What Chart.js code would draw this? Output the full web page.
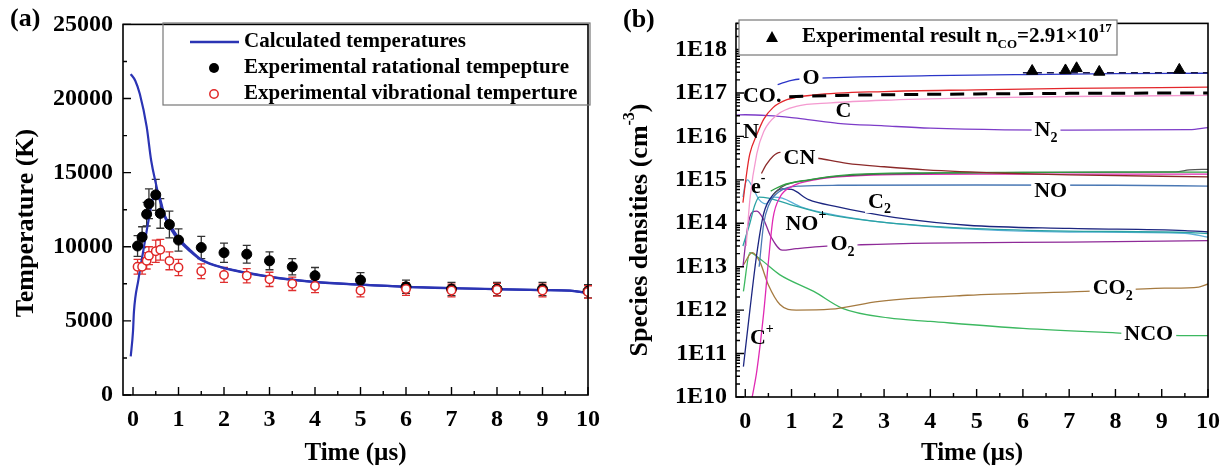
<!DOCTYPE html>
<html>
<head>
<meta charset="utf-8">
<script src="https://cdn.jsdelivr.net/npm/chart.js@4.4.1/dist/chart.umd.min.js"></script>
<style>
  body { margin: 0; background: #fff; }
  canvas { position: absolute; top: 0; }
  #panelA { left: 0; }
  #panelB { left: 610px; }
</style>
</head>
<body>
<canvas id="panelA" width="610" height="471"></canvas>
<canvas id="panelB" width="621" height="471"></canvas>
<script>
const FONT = "'Liberation Serif', 'Times New Roman', serif";

// ---- panel (a): temperatures ----
const timeTicks = [0, 1, 2, 3, 4, 5, 6, 7, 8, 9, 10];
const timeMinor = [0.5, 1.5, 2.5, 3.5, 4.5, 5.5, 6.5, 7.5, 8.5, 9.5];
const tempTicks = [0, 5000, 10000, 15000, 20000, 25000];
const tempMinor = [2500, 7500, 12500, 17500, 22500];

const expTime = [0.1, 0.2, 0.3, 0.35, 0.5, 0.6, 0.8, 1, 1.5, 2, 2.5, 3, 3.5, 4, 5, 6, 7, 8, 9, 10];
const rotTemp = [10050, 10650, 12200, 12900, 13500, 12250, 11500, 10450, 9950, 9600, 9500, 9050, 8650, 8050, 7750, 7300, 7150, 7150, 7150, 7000];
const rotErr = [700, 700, 800, 1000, 1050, 1000, 900, 750, 750, 650, 600, 600, 550, 550, 500, 450, 450, 450, 450, 450];
const vibTemp = [8650, 8650, 9050, 9400, 9700, 9800, 9050, 8600, 8350, 8100, 8050, 7800, 7500, 7350, 7050, 7150, 7050, 7100, 7050, 6950];
const vibErr = [500, 500, 550, 600, 750, 700, 600, 550, 500, 500, 480, 480, 450, 450, 430, 430, 430, 430, 430, 420];

const calcTimeFall = [-0.05, 0.05, 0.15, 0.3, 0.4, 0.5, 0.6, 0.7, 0.85, 1.0, 1.25, 1.5, 2, 2.5, 3, 3.5, 4, 5, 6, 7, 8, 9, 9.6, 10];
const calcTempFall = [21650, 21200, 20300, 18100, 15800, 14300, 13000, 12100, 11300, 10600, 9800, 9150, 8580, 8250, 7980, 7780, 7630, 7450, 7300, 7210, 7140, 7080, 7040, 6880];
const calcTimeRise = [-0.05, 0.0, 0.02, 0.12, 0.23, 0.34, 0.44, 0.52, 0.6, 0.7, 0.85, 1.0, 1.25, 1.5, 2, 3, 4, 5, 6, 7, 8, 9, 9.6, 10];
const calcTempRise = [2600, 4300, 5600, 7800, 9800, 11750, 13300, 13700, 13200, 12000, 11100, 10450, 9700, 9100, 8560, 7970, 7620, 7440, 7290, 7200, 7135, 7075, 7035, 6880];

// ---- panel (b): species densities ----
const densTicks = [1e10, 1e11, 1e12, 1e13, 1e14, 1e15, 1e16, 1e17, 1e18];

const tO = [0.7, 0.85, 1.0, 1.2, 1.6, 2.5, 4, 6, 8, 10];
const nO = [1.55e17, 1.75e17, 1.95e17, 2.1e17, 2.2e17, 2.35e17, 2.5e17, 2.65e17, 2.78e17, 2.85e17];
const tN = [-0.05, 0.05, 0.1, 0.25, 0.4, 0.6, 0.9, 1.5, 3, 5, 7, 10];
const nN = [3e14, 2e15, 4e15, 1.1e16, 2.5e16, 4.6e16, 7e16, 9e16, 1.08e17, 1.18e17, 1.27e17, 1.36e17];
const tCO = [0.95, 2, 3, 5, 7, 10];
const nCO = [8.2e16, 8.8e16, 9.1e16, 9.5e16, 9.8e16, 1.0e17];
const tC = [0.02, 0.1, 0.25, 0.4, 0.7, 1.1, 1.85, 3, 5, 7, 10];
const nC = [3e13, 3.5e14, 4e15, 1.3e16, 3.2e16, 4.9e16, 5.9e16, 6.8e16, 7.7e16, 8.3e16, 8.8e16];
const tN2 = [-0.2, 0, 0.5, 1, 1.4, 2, 3, 4, 5.6, 7, 9.6, 10];
const nN2 = [3.1e16, 3.15e16, 3e16, 2.7e16, 2.4e16, 2e16, 1.75e16, 1.55e16, 1.42e16, 1.4e16, 1.43e16, 1.6e16];
const tCN = [0.35, 0.45, 0.6, 0.75, 1.0, 1.6, 2.2, 3, 3.9, 5.6, 7, 10];
const nCN = [1.4e15, 2.2e15, 3.5e15, 4.3e15, 3.9e15, 3.1e15, 2.4e15, 2e15, 1.7e15, 1.42e15, 1.3e15, 1.17e15];
const tGray = [0.6, 0.8, 1.4, 2.2, 4, 6, 8, 9.3, 9.6, 10];
const nGray = [4.5e14, 7e14, 1e15, 1.25e15, 1.42e15, 1.48e15, 1.5e15, 1.52e15, 1.7e15, 1.75e15];
const tGreen = [0.55, 0.8, 1.37, 2.2, 3.9, 6, 8, 10];
const nGreen = [5.5e14, 7.5e14, 1e15, 1.3e15, 1.45e15, 1.48e15, 1.5e15, 1.5e15];
const tCp = [0.15, 0.25, 0.4, 0.5, 0.6, 0.75, 1.0, 1.5, 2.5, 5, 10];
const nCp = [1e10, 4e10, 9e11, 1.3e13, 1.3e14, 4e14, 7e14, 1e15, 1.25e15, 1.35e15, 1.35e15];
const tNO = [0.3, 0.4, 0.5, 0.75, 1.2, 2, 5, 8, 10];
const nNO = [1e13, 1e14, 2.5e14, 5.5e14, 7.2e14, 7.5e14, 7.6e14, 7.5e14, 7.2e14];
const tC2 = [-0.04, 0.1, 0.25, 0.4, 0.6, 0.8, 1.0, 1.37, 2, 2.56, 3.25, 4.8, 7, 9.5, 10];
const nC2 = [5e10, 1e12, 2e13, 1.7e14, 4.5e14, 6.2e14, 6e14, 3.5e14, 2.4e14, 1.8e14, 1.35e14, 9e13, 7.6e13, 6.8e13, 6.3e13];
const tNOp = [-0.05, 0.1, 0.2, 0.3, 0.5, 0.97, 1.77, 3, 5, 7, 9.5, 10];
const nNOp = [3e13, 1e14, 2.5e14, 4e14, 3.8e14, 2.7e14, 1.6e14, 1.05e14, 7.5e13, 6.6e13, 6.2e13, 5.8e13];
const tE = [-0.05, 0, 0.05, 0.15, 0.3, 0.45, 0.6, 0.8, 1.2, 2, 3, 5, 7, 9.5, 10];
const nE = [4e14, 8e14, 1e15, 7e14, 3.5e14, 2.8e14, 4e14, 3.8e14, 2.4e14, 1.5e14, 1.05e14, 7.2e13, 6.3e13, 5.9e13, 4.8e13];
const tO2 = [-0.05, 0.05, 0.15, 0.25, 0.4, 0.55, 0.8, 1.1, 1.6, 2.5, 4, 7, 10];
const nO2 = [1e13, 8e13, 1.8e14, 1.9e14, 1.2e14, 5e13, 2.4e13, 2.6e13, 2.9e13, 3.2e13, 3.5e13, 3.7e13, 4e13];
const tCO2 = [-0.04, 0.15, 0.32, 0.5, 0.75, 1.1, 1.84, 2.9, 4.8, 7.35, 9.06, 9.8, 10];
const nCO2 = [1.1e13, 2.1e13, 1.26e13, 3.8e12, 1.35e12, 1e12, 1.05e12, 1.6e12, 2.2e12, 2.7e12, 3.2e12, 3.4e12, 4e12];
const tNCO = [-0.04, 0.1, 0.32, 0.75, 1.48, 2.1, 3.1, 4, 6, 8, 9.5, 10];
const nNCO = [2.7e12, 2.1e13, 1.5e13, 6.5e12, 2.7e12, 1.1e12, 6.6e11, 5.5e11, 3.8e11, 3e11, 2.6e11, 2.6e11];

const tExp = [6.2, 6.92, 7.16, 7.65, 9.38];
const nExp = [3.2e17, 3.3e17, 3.7e17, 3.05e17, 3.4e17];
const tRef = [6, 10];
const nRef = [2.91e17, 2.91e17];

const xy = (xs, ys) => xs.map((x, i) => ({ x, y: ys[i] }));

Chart.defaults.font.family = FONT;
Chart.defaults.font.weight = 'bold';
Chart.defaults.color = '#000';

function richText(ctx, parts, x, y, size, align) {
  const small = Math.round(size * 0.62);
  const fontOf = (k) => `bold ${k ? small : size}px ${FONT}`;
  let w = 0;
  parts.forEach(([t, k]) => { ctx.font = fontOf(k); w += ctx.measureText(t).width; });
  let cx = align === 'left' ? x : x - w / 2;
  ctx.textBaseline = 'middle';
  ctx.textAlign = 'left';
  parts.forEach(([t, k]) => {
    ctx.font = fontOf(k);
    const dy = k === 'sub' ? size * 0.36 : k === 'sup' ? -size * 0.4 : 0;
    ctx.fillText(t, cx, y + dy);
    cx += ctx.measureText(t).width;
  });
  return w;
}

// inward ticks and closed frame
const framePlugin = {
  id: 'frame',
  afterDraw(chart, args, o) {
    const { ctx, chartArea: a, scales } = chart;
    ctx.save();
    ctx.strokeStyle = '#000';
    ctx.lineWidth = 1.4;
    ctx.beginPath();
    o.xMajor.forEach((v) => { const p = scales.x.getPixelForValue(v); ctx.moveTo(p, a.bottom); ctx.lineTo(p, a.bottom - 8); });
    o.xMinor.forEach((v) => { const p = scales.x.getPixelForValue(v); ctx.moveTo(p, a.bottom); ctx.lineTo(p, a.bottom - 4); });
    o.yMajor.forEach((v) => { const p = scales.y.getPixelForValue(v); ctx.moveTo(a.left, p); ctx.lineTo(a.left + 8, p); });
    o.yMinor.forEach((v) => { const p = scales.y.getPixelForValue(v); ctx.moveTo(a.left, p); ctx.lineTo(a.left + 4, p); });
    ctx.stroke();
    ctx.lineWidth = 1.6;
    ctx.strokeRect(a.left, a.top, a.right - a.left, a.bottom - a.top);
    ctx.restore();
  }
};

const errorBars = {
  id: 'errorBars',
  beforeDatasetsDraw(chart) {
    const { ctx, scales } = chart;
    const draw = (vals, errs, color) => {
      ctx.strokeStyle = color;
      ctx.lineWidth = 1.3;
      ctx.beginPath();
      expTime.forEach((t, i) => {
        const px = scales.x.getPixelForValue(t);
        const top = scales.y.getPixelForValue(vals[i] + errs[i]);
        const bot = scales.y.getPixelForValue(vals[i] - errs[i]);
        ctx.moveTo(px, top); ctx.lineTo(px, bot);
        ctx.moveTo(px - 4, top); ctx.lineTo(px + 4, top);
        ctx.moveTo(px - 4, bot); ctx.lineTo(px + 4, bot);
      });
      ctx.stroke();
    };
    ctx.save();
    draw(rotTemp, rotErr, '#333');
    draw(vibTemp, vibErr, '#e03030');
    ctx.restore();
  }
};

const decorA = {
  id: 'decorA',
  afterDraw(chart) {
    const { ctx } = chart;
    ctx.save();
    ctx.fillStyle = '#000';
    richText(ctx, [['(a)', '']], 10, 19, 26, 'left');
    ctx.translate(26, 223);
    ctx.rotate(-Math.PI / 2);
    richText(ctx, [['Temperature (K)', '']], 0, 0, 26, 'center');
    ctx.restore();

    // legend
    ctx.save();
    ctx.strokeStyle = '#777';
    ctx.lineWidth = 1.2;
    ctx.strokeRect(163, 23, 427, 82);
    ctx.strokeStyle = '#2b34b4';
    ctx.lineWidth = 2.4;
    ctx.beginPath(); ctx.moveTo(190, 42); ctx.lineTo(239, 42); ctx.stroke();
    ctx.fillStyle = '#000';
    ctx.beginPath(); ctx.arc(214, 68, 5, 0, Math.PI * 2); ctx.fill();
    ctx.strokeStyle = '#e02828';
    ctx.lineWidth = 1.5;
    ctx.beginPath(); ctx.arc(214, 94, 4.2, 0, Math.PI * 2); ctx.stroke();
    richText(ctx, [['Calculated temperatures', '']], 244, 42, 21, 'left');
    richText(ctx, [['Experimental ratational tempepture', '']], 244, 68, 21, 'left');
    richText(ctx, [['Experimental vibrational temperture', '']], 244, 94, 21, 'left');
    ctx.restore();
  }
};

const tickFont = { family: FONT, size: 24, weight: 'bold' };
const titleFont = { family: FONT, size: 25, weight: 'bold' };

new Chart(document.getElementById('panelA'), {
  type: 'line',
  data: {
    datasets: [
      { data: xy(expTime, vibTemp), showLine: false, pointRadius: 4.2, pointBackgroundColor: '#fff', pointBorderColor: '#e02828', pointBorderWidth: 1.5 },
      { data: xy(expTime, rotTemp), showLine: false, pointRadius: 5, pointBackgroundColor: '#000', pointBorderColor: '#000' },
      { data: xy(calcTimeFall, calcTempFall), borderColor: '#2b34b4', borderWidth: 2.2, pointRadius: 0, cubicInterpolationMode: 'monotone' },
      { data: xy(calcTimeRise, calcTempRise), borderColor: '#2b34b4', borderWidth: 2.2, pointRadius: 0, cubicInterpolationMode: 'monotone' }
    ]
  },
  options: {
    responsive: false,
    animation: false,
    devicePixelRatio: 1,
    layout: { padding: { top: 16, right: 15, left: 0, bottom: 0 } },
    plugins: {
      legend: { display: false },
      tooltip: { enabled: false },
      frame: { xMajor: timeTicks, xMinor: timeMinor, yMajor: tempTicks, yMinor: tempMinor }
    },
    scales: {
      x: {
        type: 'linear', min: -0.22, max: 10,
        grid: { display: false, drawTicks: false }, border: { display: false },
        afterBuildTicks: (s) => { s.ticks = timeTicks.map((v) => ({ value: v })); },
        afterFit: (s) => { s.height = 76; },
        ticks: { font: tickFont, color: '#000', padding: 10, maxRotation: 0, autoSkip: false },
        title: { display: true, text: 'Time (µs)', font: titleFont, color: '#000', padding: { top: 0, bottom: 2 } }
      },
      y: {
        type: 'linear', min: 0, max: 25000,
        grid: { display: false, drawTicks: false }, border: { display: false },
        afterBuildTicks: (s) => { s.ticks = tempTicks.map((v) => ({ value: v })); },
        afterFit: (s) => { s.width = 123; },
        ticks: { font: tickFont, color: '#000', padding: 10, callback: (v) => String(v) }
      }
    }
  },
  plugins: [errorBars, framePlugin, decorA]
});

// ---- panel (b) ----
const speciesLabels = [
  { parts: [['O', '']], x: 1.42, y: 2.15e17, bg: true },
  { parts: [['CO.', '']], x: -0.05, y: 8.5e16, bg: false, align: 'left' },
  { parts: [['C', '']], x: 2.12, y: 3.8e16, bg: false },
  { parts: [['N', '']], x: -0.05, y: 1.23e16, bg: false, align: 'left' },
  { parts: [['N', ''], ['2', 'sub']], x: 6.5, y: 1.38e16, bg: true },
  { parts: [['CN', '']], x: 1.17, y: 3.16e15, bg: true },
  { parts: [['e', ''], ['-', 'sup']], x: 0.28, y: 6.9e14, bg: false },
  { parts: [['NO', '']], x: 6.6, y: 5.4e14, bg: true },
  { parts: [['C', ''], ['2', 'sub']], x: 2.9, y: 3.1e14, bg: true },
  { parts: [['NO', ''], ['+', 'sup']], x: 1.31, y: 9.4e13, bg: false },
  { parts: [['O', ''], ['2', 'sub']], x: 2.1, y: 3.3e13, bg: true },
  { parts: [['CO', ''], ['2', 'sub']], x: 7.94, y: 3.2e12, bg: true },
  { parts: [['NCO', '']], x: 8.72, y: 2.8e11, bg: true },
  { parts: [['C', ''], ['+', 'sup']], x: 0.36, y: 2.3e11, bg: false }
];

const labelsPlugin = {
  id: 'speciesLabels',
  afterDatasetsDraw(chart) {
    const { ctx, scales } = chart;
    ctx.save();
    speciesLabels.forEach((l) => {
      const px = scales.x.getPixelForValue(l.x);
      const py = scales.y.getPixelForValue(l.y);
      if (l.bg) {
        ctx.globalAlpha = 0;
        const w = richText(ctx, l.parts, px, py, 22, l.align);
        ctx.globalAlpha = 1;
        ctx.fillStyle = '#fff';
        const left = l.align === 'left' ? px : px - w / 2;
        ctx.fillRect(left - 3, py - 11, w + 6, 22);
      }
      ctx.fillStyle = '#000';
      richText(ctx, l.parts, px, py, 22, l.align);
    });
    ctx.restore();
  }
};

const decorB = {
  id: 'decorB',
  afterDraw(chart) {
    const { ctx } = chart;
    ctx.save();
    ctx.fillStyle = '#000';
    richText(ctx, [['(b)', '']], 13, 20, 26, 'left');
    ctx.translate(30, 230);
    ctx.rotate(-Math.PI / 2);
    richText(ctx, [['Species densities (cm', ''], ['-3', 'sup'], [')', '']], 0, 0, 26, 'center');
    ctx.restore();

    ctx.save();
    ctx.fillStyle = '#fff';
    ctx.fillRect(129, 20, 378, 35);
    ctx.strokeStyle = '#777';
    ctx.lineWidth = 1.2;
    ctx.strokeRect(129, 20, 378, 35);
    ctx.fillStyle = '#000';
    ctx.beginPath();
    ctx.moveTo(162, 31); ctx.lineTo(168, 42); ctx.lineTo(156, 42); ctx.closePath(); ctx.fill();
    richText(ctx, [['Experimental result n', ''], ['CO', 'sub'], ['=2.91×10', ''], ['17', 'sup']], 192, 37, 21, 'left');
    ctx.restore();
  }
};

const logMinor = [];
densTicks.slice(0, -1).forEach((d) => { for (let k = 2; k <= 9; k++) logMinor.push(k * d); });
[2e18, 3e18, 4e18].forEach((v) => logMinor.push(v));

const curve = (xs, ys, color, extra) => Object.assign({
  data: xy(xs, ys), borderColor: color, borderWidth: 1.3, pointRadius: 0, cubicInterpolationMode: 'monotone'
}, extra || {});

new Chart(document.getElementById('panelB'), {
  type: 'line',
  data: {
    datasets: [
      { data: xy(tExp, nExp), showLine: false, pointStyle: 'triangle', pointRadius: 6.5, pointBackgroundColor: '#000', pointBorderColor: '#000' },
      curve(tRef, nRef, '#1a1a4a', { borderDash: [7, 5], borderWidth: 1.5 }),
      curve(tCO, nCO, '#000', { borderDash: [14, 9], borderWidth: 3 }),
      curve(tO, nO, '#2b35c8'),
      curve(tN, nN, '#e3262b'),
      curve(tC, nC, '#f49ad0'),
      curve(tN2, nN2, '#7d3cc8'),
      curve(tCN, nCN, '#8c2a2a'),
      curve(tGreen, nGreen, '#2e9e40'),
      curve(tGray, nGray, '#555'),
      curve(tCp, nCp, '#e02ab4'),
      curve(tNO, nNO, '#4a78b4'),
      curve(tC2, nC2, '#1c2680'),
      curve(tNOp, nNOp, '#2aa3a3'),
      curve(tE, nE, '#5cb0d8'),
      curve(tO2, nO2, '#8e2a98'),
      curve(tCO2, nCO2, '#a57a40'),
      curve(tNCO, nNCO, '#3cb860')
    ]
  },
  options: {
    responsive: false,
    animation: false,
    devicePixelRatio: 1,
    layout: { padding: { top: 16, right: 23, left: 0, bottom: 0 } },
    plugins: {
      legend: { display: false },
      tooltip: { enabled: false },
      frame: { xMajor: timeTicks, xMinor: timeMinor, yMajor: densTicks, yMinor: logMinor }
    },
    scales: {
      x: {
        type: 'linear', min: -0.2, max: 10,
        grid: { display: false, drawTicks: false }, border: { display: false },
        afterBuildTicks: (s) => { s.ticks = timeTicks.map((v) => ({ value: v })); },
        afterFit: (s) => { s.height = 74; },
        ticks: { font: tickFont, color: '#000', padding: 10, maxRotation: 0, autoSkip: false },
        title: { display: true, text: 'Time (µs)', font: titleFont, color: '#000', padding: { top: 0, bottom: 2 } }
      },
      y: {
        type: 'logarithmic', min: 1e10, max: 4e18,
        grid: { display: false, drawTicks: false }, border: { display: false },
        afterBuildTicks: (s) => { s.ticks = densTicks.map((v) => ({ value: v })); },
        afterFit: (s) => { s.width = 126; },
        ticks: { font: tickFont, color: '#000', padding: 9, autoSkip: false, callback: (v) => '1E' + Math.round(Math.log10(v)) }
      }
    }
  },
  plugins: [framePlugin, labelsPlugin, decorB]
});
</script>
</body>
</html>
